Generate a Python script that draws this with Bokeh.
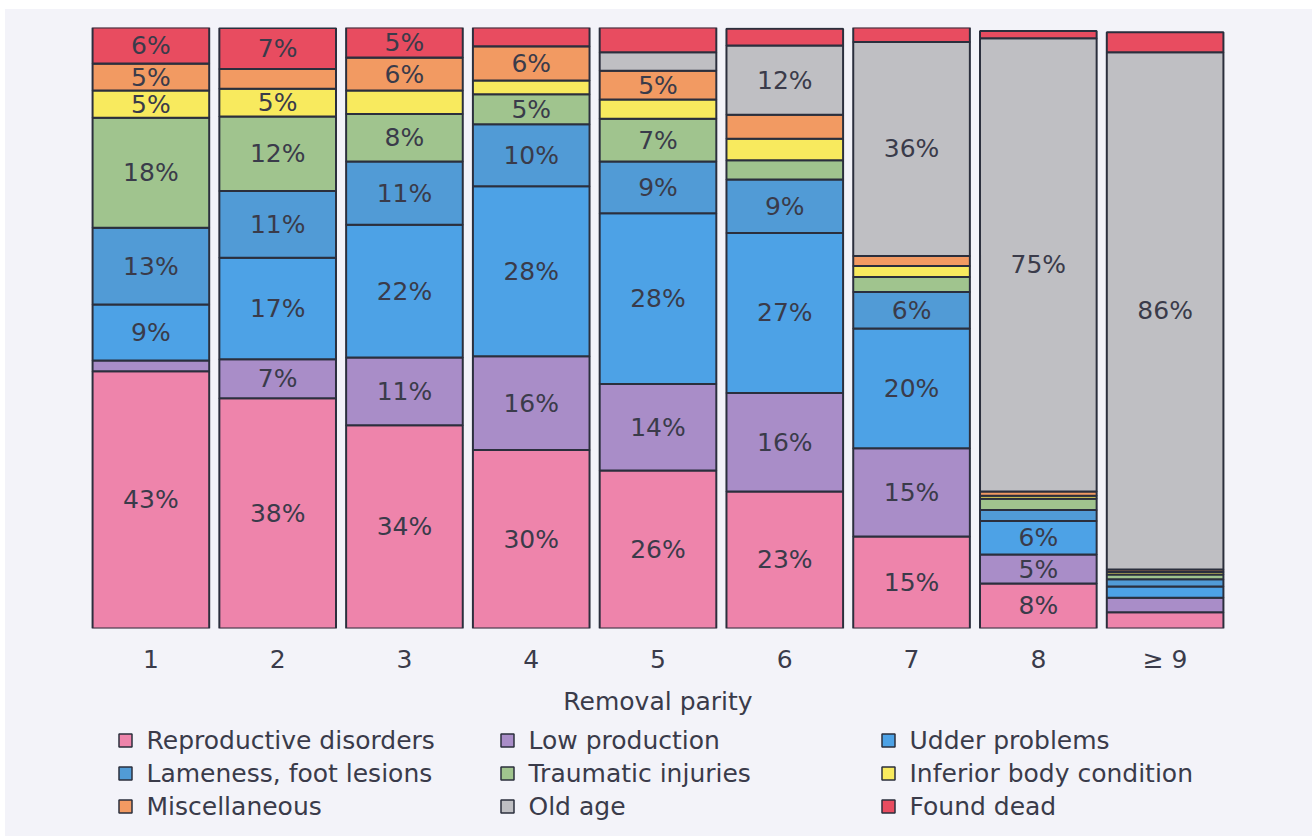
from bokeh.plotting import figure
from bokeh.models import ColumnDataSource, FactorRange, Range1d
from bokeh.layouts import column
from bokeh.core.properties import value
from bokeh.embed import file_html
from bokeh.resources import INLINE

categories = ["1", "2", "3", "4", "5", "6", "7", "8", "\u2265 9"]

reproductive = [42.8, 38.3, 33.8, 29.7, 26.3, 22.8, 15.3, 7.5, 2.7]
low_production = [1.8, 6.5, 11.3, 15.6, 14.4, 16.4, 14.7, 4.8, 2.4]
udder = [9.3, 16.9, 22.1, 28.3, 28.4, 26.6, 19.9, 5.6, 1.9]
lameness = [12.8, 11.1, 10.5, 10.3, 8.6, 8.9, 6.1, 1.8, 1.2]
traumatic = [18.3, 12.4, 7.9, 5.0, 7.1, 3.2, 2.5, 1.9, 0.8]
inferior = [4.5, 4.6, 3.9, 2.3, 3.2, 3.6, 1.8, 0.5, 0.4]
misc = [4.5, 3.3, 5.5, 5.7, 4.8, 4.0, 1.7, 0.7, 0.4]
old_age = [0, 0, 0, 0, 3.1, 11.5, 35.6, 75.4, 86.1]
found_dead = [6.0, 6.8, 5.0, 3.2, 4.2, 2.8, 2.5, 1.2, 3.3]

series_keys = ["reproductive", "low_production", "udder", "lameness", "traumatic",
               "inferior", "misc", "old_age", "found_dead"]
series_names = ["Reproductive disorders", "Low production", "Udder problems",
                "Lameness, foot lesions", "Traumatic injuries", "Inferior body condition",
                "Miscellaneous", "Old age", "Found dead"]
series_values = [reproductive, low_production, udder, lameness, traumatic,
                 inferior, misc, old_age, found_dead]
colors = ["#EE84AB", "#A98DC8", "#4DA2E6", "#519BD6", "#A0C48E",
          "#F8EA5E", "#F29A62", "#BFBFC3", "#E84C60"]

FONT = "DejaVu Sans"
FS = "25px"
TEXT_COLOR = "#3A3B4A"
EDGE = "#2B2F3D"
BG = "#F3F3F9"

data = {"cat": categories}
for k, v in zip(series_keys, series_values):
    data[k] = v
source = ColumnDataSource(data)

FRAME_L, FRAME_W = 82, 1141

p = figure(x_range=FactorRange(*categories, range_padding=0), y_range=Range1d(0, 100),
           width=1307, height=709, output_backend="svg", toolbar_location=None,
           y_axis_location=None,
           min_border_left=FRAME_L, min_border_right=1307 - FRAME_L - FRAME_W,
           min_border_top=18, min_border_bottom=90,
           background_fill_color=BG, border_fill_color=BG, outline_line_color=None)

renderers = p.vbar_stack(series_keys, x="cat", width=0.92, source=source,
                         fill_color=colors, line_color=EDGE, line_width=2)

# segment labels
lx, ly, lt = [], [], []
for i, cat in enumerate(categories):
    base = 0.0
    for vals in series_values:
        v = vals[i]
        if v >= 4.5:
            lx.append(cat)
            ly.append(base + v / 2.0)
            lt.append(f"{int(v + 0.5)}%")
        base += v
lsrc = ColumnDataSource(dict(x=lx, y=ly, t=lt))
p.text(x="x", y="y", text="t", source=lsrc, text_align="center", text_baseline="middle",
       text_font=value(FONT), text_font_size=FS, text_color=TEXT_COLOR)

p.grid.visible = False
ax = p.xaxis[0]
ax.axis_line_color = None
ax.major_tick_line_color = None
ax.minor_tick_line_color = None
ax.major_tick_out = 0
ax.major_tick_in = 0
ax.major_label_standoff = 16
ax.major_label_text_font = FONT
ax.major_label_text_font_size = FS
ax.major_label_text_color = TEXT_COLOR
ax.axis_label = "Removal parity"
ax.axis_label_standoff = 10
ax.axis_label_text_font = FONT
ax.axis_label_text_font_size = FS
ax.axis_label_text_font_style = "normal"
ax.axis_label_text_color = TEXT_COLOR

# legend panel (3 columns, row-major); x in figure pixels, frame aligned with main plot
LW, LH = 1307, 118
col_x = [120, 502, 883]
row_y = [22, 55, 88]
gx = [col_x[i % 3] for i in range(len(series_names))]
gy = [row_y[i // 3] for i in range(len(series_names))]
tx = [x + 21 for x in gx]
leg = figure(width=LW, height=LH, x_range=Range1d(FRAME_L, FRAME_L + FRAME_W),
             y_range=Range1d(LH, 0),
             output_backend="svg", toolbar_location=None,
             x_axis_location=None, y_axis_location=None,
             min_border_left=FRAME_L, min_border_right=LW - FRAME_L - FRAME_W,
             min_border_top=0, min_border_bottom=0,
             background_fill_alpha=0, border_fill_alpha=0, outline_line_color=None)
leg.grid.visible = False
lg_src = ColumnDataSource(dict(x=gx, y=gy, tx=tx, c=colors, name=series_names))
leg.rect(x="x", y="y", width=13, height=13, width_units="screen", height_units="screen",
         fill_color="c", line_color=EDGE, line_width=1.5, source=lg_src)
leg.text(x="tx", y="y", text="name", source=lg_src, text_align="left", text_baseline="middle",
         text_font=value(FONT), text_font_size=FS, text_color=TEXT_COLOR)

layout = column(p, leg, spacing=0, margin=(9, 0, 0, 5),
                styles={"background-color": BG})
open("out.html", "w").write(file_html(layout, INLINE))
